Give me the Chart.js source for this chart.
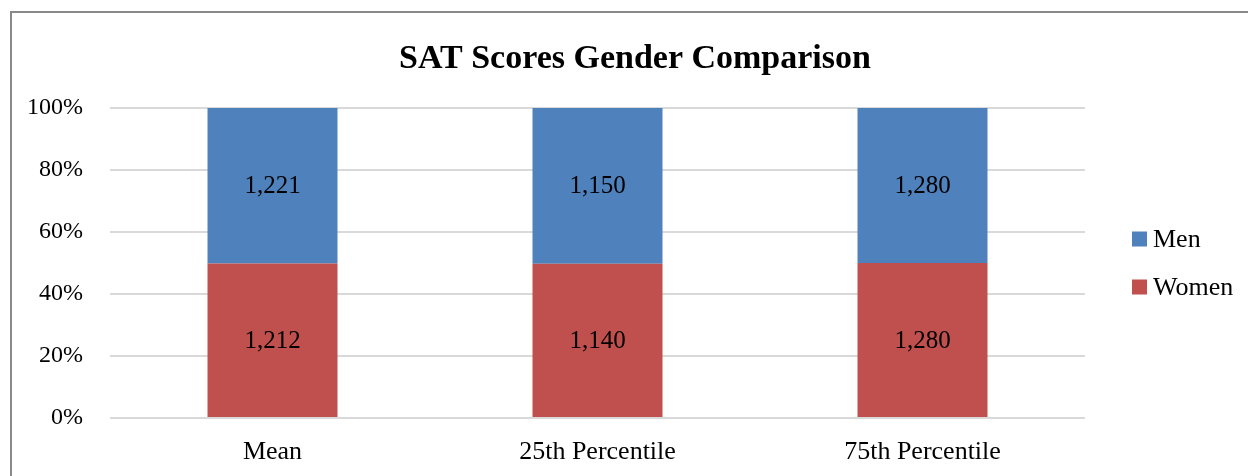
<!DOCTYPE html>
<html>
<head>
<meta charset="utf-8">
<script src="https://cdn.jsdelivr.net/npm/chart.js@4/dist/chart.umd.min.js"></script>
<style>
  html, body { margin: 0; padding: 0; background: #fff; }
  #wrap { position: relative; width: 1248px; height: 476px; overflow: hidden; }
  #frame { position: absolute; left: 10px; top: 11px; width: 1300px; height: 500px;
           border-left: 2px solid #898989; border-top: 2px solid #898989; pointer-events: none; }
  canvas { position: absolute; left: 0; top: 0; }
</style>
</head>
<body>
<div id="wrap">
  <canvas id="satChart" width="1248" height="476"></canvas>
  <div id="frame"></div>
</div>
<script>
// categories and raw scores
const categories = ['Mean', '25th Percentile', '75th Percentile'];
const womenScores = [1212, 1140, 1280];
const menScores = [1221, 1150, 1280];
const yTicks = [0, 20, 40, 60, 80, 100];

const FONT = "'Liberation Serif', 'Times New Roman', serif";

// 100% stacked: share of each column
const share = (a, b) => a.map((v, i) => v / (v + b[i]) * 100);

// draws the score in the middle of each segment
const segmentLabels = {
    id: 'segmentLabels',
    afterDatasetsDraw(chart) {
        const ctx = chart.ctx;
        ctx.save();
        ctx.font = '25px ' + FONT;
        ctx.fillStyle = '#000';
        ctx.textAlign = 'center';
        ctx.textBaseline = 'middle';
        chart.data.datasets.forEach((ds, di) => {
            const meta = chart.getDatasetMeta(di);
            meta.data.forEach((bar, i) => {
                const mid = (bar.y + bar.base) / 2;
                ctx.fillText(ds.raw[i].toLocaleString('en-US'), bar.x, mid + 1);
            });
        });
        ctx.restore();
    }
};

// legend on the right, top series first, centred on the plot area
const sideLegend = {
    id: 'sideLegend',
    afterDraw(chart) {
        const ctx = chart.ctx;
        const area = chart.chartArea;
        const items = chart.data.datasets.slice().reverse();
        const gap = 48;
        const startY = (area.top + area.bottom) / 2 - gap * (items.length - 1) / 2;
        const boxX = area.right + 47;
        ctx.save();
        ctx.font = '26px ' + FONT;
        ctx.textBaseline = 'middle';
        ctx.textAlign = 'left';
        items.forEach((ds, i) => {
            const y = startY + i * gap;
            ctx.fillStyle = ds.backgroundColor;
            ctx.fillRect(boxX, y - 7.5, 15, 15);
            ctx.fillStyle = '#000';
            ctx.fillText(ds.label, boxX + 21, y + 1);
        });
        ctx.restore();
    }
};

new Chart(document.getElementById('satChart'), {
    type: 'bar',
    data: {
        labels: categories,
        datasets: [{
            label: 'Women',
            data: share(womenScores, menScores),
            raw: womenScores,
            backgroundColor: '#C0504D',
            barPercentage: 0.4,
            categoryPercentage: 1
        },
        {
            label: 'Men',
            data: share(menScores, womenScores),
            raw: menScores,
            backgroundColor: '#4F81BD',
            barPercentage: 0.4,
            categoryPercentage: 1
        }]
    },
    options: {
        responsive: false,
        animation: false,
        layout: { padding: { left: 22, right: 0, top: 0, bottom: 0 } },
        scales: {
            x: {
                stacked: true,
                grid: { display: false, drawTicks: false },
                border: { display: false },
                ticks: { color: '#000', padding: 19, font: { family: FONT, size: 26 } },
                afterFit: (scale) => { scale.height = 58; }
            },
            y: {
                stacked: true,
                min: 0,
                max: 100,
                afterBuildTicks: (scale) => { scale.ticks = yTicks.map(v => ({ value: v })); },
                grid: { color: '#d9d9d9', lineWidth: 2, drawTicks: false },
                border: { display: false },
                ticks: {
                    color: '#000',
                    padding: 27,
                    font: { family: FONT, size: 24 },
                    callback: (v) => v + '%'
                },
                afterFit: (scale) => { scale.width = 88; }
            },
            // empty axis that keeps room for the legend on the right
            legendRoom: {
                type: 'linear',
                position: 'right',
                grid: { display: false, drawTicks: false },
                border: { display: false },
                ticks: { display: false },
                afterFit: (scale) => { scale.width = 163; }
            }
        },
        plugins: {
            title: {
                display: true,
                text: 'SAT Scores Gender Comparison',
                color: '#000',
                font: { family: FONT, size: 34, weight: 'bold' },
                padding: { top: 39, bottom: 28.2 }
            },
            legend: { display: false },
            tooltip: { enabled: false }
        }
    },
    plugins: [segmentLabels, sideLegend]
});
</script>
</body>
</html>
